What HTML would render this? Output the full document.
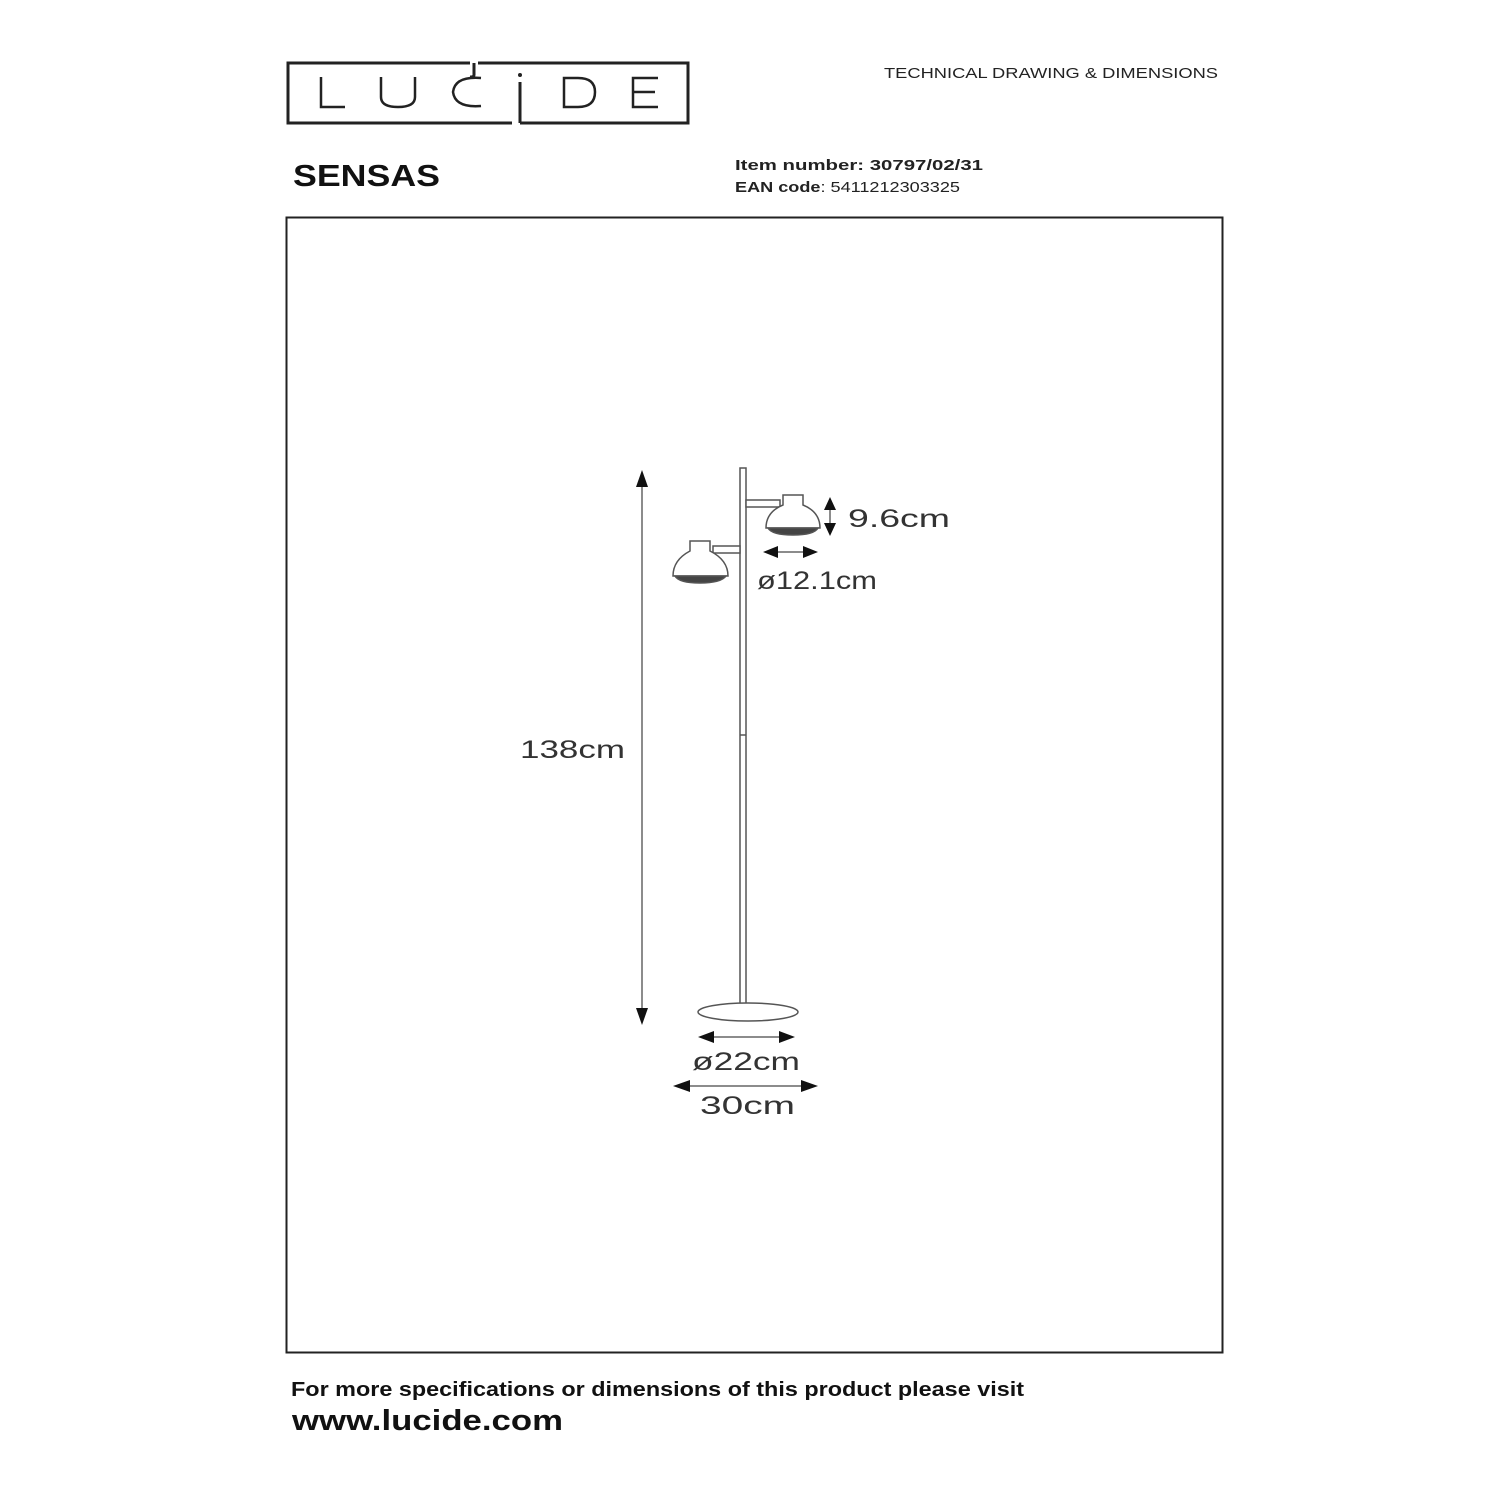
<!DOCTYPE html>
<html><head><style>body{margin:0;background:#fff}svg{display:block}</style></head><body>
<svg width="1500" height="1500" viewBox="0 0 1500 1500" xmlns="http://www.w3.org/2000/svg" font-family="Liberation Sans, sans-serif">
<rect width="1500" height="1500" fill="#fff"/>
<g stroke="#222" stroke-width="3" fill="none">
<path d="M470 63 H288 V123 H512"/>
<path d="M478 63 H688 V123 H520"/>
<path d="M474 63 V75 Q474 77 470 77"/>
<path d="M520 123 V82"/>
</g>
<g stroke="#222" stroke-width="2.5" fill="none">
<path d="M321 77 V107 H345"/>
<path d="M381 77 V97 Q381 107 398 107 Q415 107 415 97 V77"/>
<path d="M481 78 Q455 76 453 92 Q455 108 481 106"/>
<path d="M564 78 V107 H578 Q595 107 595 92 Q595 78 578 78 Z"/>
<path d="M658 78 H633 V107 H658 M633 92 H655"/>
</g>
<circle cx="520" cy="75" r="2" fill="#222"/>
<text x="884" y="78" font-size="15" fill="#222" textLength="334" lengthAdjust="spacingAndGlyphs">TECHNICAL DRAWING &amp; DIMENSIONS</text>
<text x="293" y="186" font-size="31" font-weight="bold" fill="#111" textLength="147" lengthAdjust="spacingAndGlyphs">SENSAS</text>
<text x="735" y="170" font-size="15" font-weight="bold" fill="#222" textLength="248" lengthAdjust="spacingAndGlyphs">Item number: 30797/02/31</text>
<text x="735" y="192" font-size="15" fill="#222" textLength="225" lengthAdjust="spacingAndGlyphs"><tspan font-weight="bold">EAN code</tspan>: 5411212303325</text>
<rect x="286.5" y="217.5" width="936" height="1135" fill="none" stroke="#222" stroke-width="2"/>
<g stroke="#555" stroke-width="1.5" fill="#fff">
<rect x="740" y="468" width="6" height="538"/>
<line x1="740" y1="735" x2="746" y2="735"/>
<ellipse cx="748" cy="1012" rx="50" ry="9"/>
<rect x="746" y="500" width="34" height="7"/>
<rect x="713" y="546" width="27" height="7"/>
<path d="M783 495 H803 V505 Q820 512 820 528 H766 Q766 512 783 505 Z"/>
<path d="M768 528 H818 Q814 535 793 535 Q772 535 768 528 Z" fill="#444"/>
<path d="M690 541 H710 V551 Q728 560 728 576 H673 Q673 560 690 551 Z"/>
<path d="M675 576 H726 Q721 583 700 583 Q679 583 675 576 Z" fill="#444"/>
</g>
<g stroke="#666" stroke-width="1.5">
<line x1="642" y1="480" x2="642" y2="1015"/>
<line x1="830" y1="505" x2="830" y2="528"/>
<line x1="772" y1="552" x2="808" y2="552"/>
<line x1="708" y1="1037" x2="785" y2="1037"/>
<line x1="683" y1="1086" x2="808" y2="1086"/>
</g>
<g fill="#111">
<path d="M642 470 L636 487 H648 Z"/>
<path d="M642 1025 L636 1008 H648 Z"/>
<path d="M830 497 L824 510 H836 Z"/>
<path d="M830 536 L824 523 H836 Z"/>
<path d="M763 552 L778 546 V558 Z"/>
<path d="M818 552 L803 546 V558 Z"/>
<path d="M698 1037 L714 1031 V1043 Z"/>
<path d="M795 1037 L779 1031 V1043 Z"/>
<path d="M673 1086 L690 1080 V1092 Z"/>
<path d="M818 1086 L801 1080 V1092 Z"/>
</g>
<g font-size="25" fill="#333">
<text x="848" y="527" textLength="102" lengthAdjust="spacingAndGlyphs">9.6cm</text>
<text x="757" y="589" textLength="120" lengthAdjust="spacingAndGlyphs">ø12.1cm</text>
<text x="520" y="758" textLength="105" lengthAdjust="spacingAndGlyphs">138cm</text>
<text x="692" y="1070" textLength="108" lengthAdjust="spacingAndGlyphs">ø22cm</text>
<text x="700" y="1114" textLength="95" lengthAdjust="spacingAndGlyphs">30cm</text>
</g>
<text x="291" y="1396" font-size="20" font-weight="bold" fill="#111" textLength="733" lengthAdjust="spacingAndGlyphs">For more specifications or dimensions of this product please visit</text>
<text x="292" y="1430" font-size="29" font-weight="bold" fill="#111" textLength="271" lengthAdjust="spacingAndGlyphs">www.lucide.com</text>
</svg>
</body></html>
